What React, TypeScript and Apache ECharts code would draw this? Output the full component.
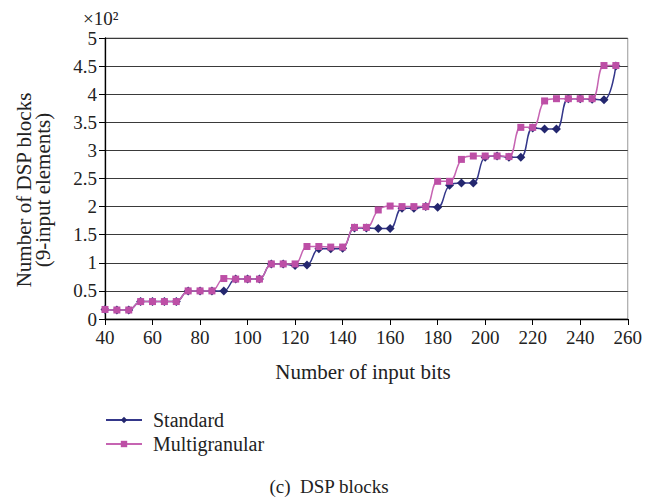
import React, { useEffect, useRef } from "react";
import * as echarts from "echarts";

const inputBits = [40, 45, 50, 55, 60, 65, 70, 75, 80, 85, 90, 95, 100, 105, 110, 115, 120, 125, 130, 135, 140, 145, 150, 155, 160, 165, 170, 175, 180, 185, 190, 195, 200, 205, 210, 215, 220, 225, 230, 235, 240, 245, 250, 255];
const standard = [0.17, 0.16, 0.16, 0.31, 0.31, 0.31, 0.31, 0.5, 0.5, 0.5, 0.5, 0.71, 0.71, 0.71, 0.98, 0.98, 0.95, 0.96, 1.25, 1.25, 1.26, 1.62, 1.62, 1.61, 1.61, 1.97, 1.97, 2.0, 1.99, 2.38, 2.42, 2.42, 2.88, 2.9, 2.88, 2.88, 3.4, 3.38, 3.38, 3.92, 3.92, 3.91, 3.9, 4.5];
const multigranular = [0.17, 0.16, 0.16, 0.31, 0.31, 0.31, 0.31, 0.5, 0.5, 0.5, 0.72, 0.71, 0.71, 0.71, 0.98, 0.98, 0.98, 1.29, 1.29, 1.28, 1.28, 1.63, 1.63, 1.94, 2.01, 2.0, 2.0, 2.0, 2.45, 2.45, 2.84, 2.9, 2.9, 2.9, 2.89, 3.41, 3.41, 3.88, 3.92, 3.92, 3.92, 3.92, 4.51, 4.51];

const FONT = "Liberation Serif";

export default function App() {
  const ref = useRef<HTMLDivElement>(null);
  useEffect(() => {
    if (!ref.current) return;
    const chart = echarts.init(ref.current, null, { renderer: "svg" });
    const tickText = { fontFamily: FONT, fontSize: 19, color: "#222" };
    chart.setOption({
      animation: false,
      textStyle: { fontFamily: FONT },
      grid: { left: 105, right: 15, top: 38, bottom: 182, containLabel: false, show: true, borderColor: "#999", borderWidth: 1, backgroundColor: "transparent" },
      xAxis: {
        type: "value",
        min: 40,
        max: 260,
        interval: 20,
        axisLine: { show: true, onZero: false, lineStyle: { color: "#000", width: 1.3 } },
        axisTick: { show: true, length: 6, inside: false, lineStyle: { color: "#000" } },
        axisLabel: { ...tickText, margin: 9 },
        splitLine: { show: false },
      },
      yAxis: {
        type: "value",
        min: 0,
        max: 5,
        interval: 0.5,
        axisLine: { show: true, lineStyle: { color: "#000", width: 1.3 } },
        axisTick: { show: true, length: 6, lineStyle: { color: "#000" } },
        axisLabel: { ...tickText, margin: 8 },
        splitLine: { show: true, lineStyle: { color: "#3a3a3a", width: 1 } },
      },
      legend: {
        orient: "vertical",
        left: 100,
        top: 405,
        itemGap: 4,
        itemWidth: 36,
        itemHeight: 8,
        textStyle: { fontFamily: FONT, fontSize: 20, color: "#222", padding: [0, 0, 0, 6] },
        data: ["Standard", "Multigranular"],
      },
      graphic: [
        {
          type: "text",
          x: 33,
          y: 190,
          rotation: Math.PI / 2,
          style: {
            text: "Number of DSP blocks\n(9-input elements)",
            fontFamily: FONT,
            fontSize: 21,
            fill: "#222",
            align: "center",
            verticalAlign: "middle",
            lineHeight: 19,
          },
        },
        {
          type: "text",
          x: 83,
          y: 18,
          style: { text: "×10²", fontFamily: FONT, fontSize: 19, fill: "#222", align: "left", verticalAlign: "middle" },
        },
        {
          type: "text",
          x: 363,
          y: 372,
          style: { text: "Number of input bits", fontFamily: FONT, fontSize: 21, fill: "#222", align: "center", verticalAlign: "middle" },
        },
        {
          type: "text",
          x: 329,
          y: 486,
          style: { text: "(c)  DSP blocks", fontFamily: FONT, fontSize: 19, fill: "#222", align: "center", verticalAlign: "middle" },
        },
      ],
      series: [
        {
          name: "Standard",
          type: "line",
          smooth: 0.4,
          symbol: "diamond",
          symbolSize: 9,
          itemStyle: { color: "#24276f" },
          lineStyle: { color: "#34378a", width: 1.5 },
          data: inputBits.map((x, i) => [x, standard[i]]),
          z: 2,
        },
        {
          name: "Multigranular",
          type: "line",
          smooth: 0.4,
          symbol: "rect",
          symbolSize: 7,
          itemStyle: { color: "#bd4fa6" },
          lineStyle: { color: "#c664b2", width: 1.5 },
          data: inputBits.map((x, i) => [x, multigranular[i]]),
          z: 3,
        },
      ],
    });
    return () => chart.dispose();
  }, []);
  return <div ref={ref} style={{ position: "absolute", left: 0, top: 0, width: 645, height: 501 }} />;
}
